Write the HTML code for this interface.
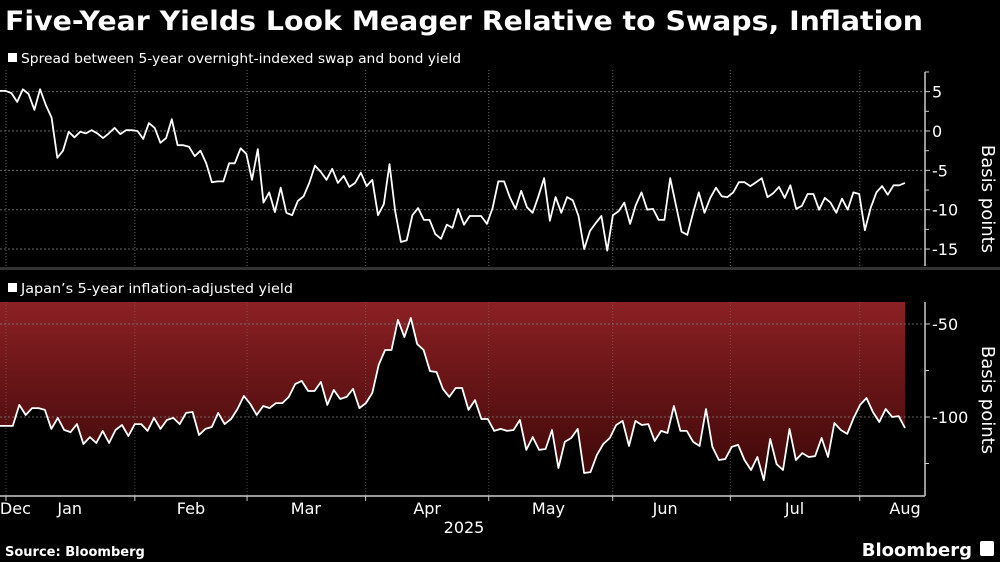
<!DOCTYPE html>
<html><head><meta charset="utf-8"><style>
html,body{margin:0;padding:0;background:#000;}
svg{display:block;font-family:"DejaVu Sans","Liberation Sans",sans-serif;}
</style></head><body>
<svg id="chart" width="1000" height="562" viewBox="0 0 1000 562">
<defs>
<linearGradient id="redgrad" x1="0" y1="302" x2="0" y2="480" gradientUnits="userSpaceOnUse">
<stop offset="0" stop-color="#8c2024"/><stop offset="1" stop-color="#3c0707"/>
</linearGradient>
</defs>
<text x="5" y="30" fill="#fff" font-weight="bold" font-size="27" textLength="918" lengthAdjust="spacingAndGlyphs">Five-Year Yields Look Meager Relative to Swaps, Inflation</text>
<rect x="8" y="53" width="9" height="9" fill="#fff"/>
<text x="21" y="63" fill="#fff" font-size="13" textLength="440" lengthAdjust="spacingAndGlyphs">Spread between 5-year overnight-indexed swap and bond yield</text>
<rect x="8" y="283" width="9" height="9" fill="#fff"/>
<text x="21" y="293" fill="#fff" font-size="13" textLength="272" lengthAdjust="spacingAndGlyphs">Japan’s 5-year inflation-adjusted yield</text>
<rect x="0" y="267" width="1000" height="3" fill="#333"/>
<g id="g"></g>
<text x="464" y="533" fill="#fff" font-size="16" text-anchor="middle">2025</text>
<text x="5" y="556" fill="#fff" font-size="13" font-weight="bold">Source: Bloomberg</text>
<text x="972" y="556" fill="#fff" font-size="18" font-weight="bold" text-anchor="end">Bloomberg</text>
<rect x="980" y="541" width="14" height="15" rx="2" fill="#fff"/>
<text x="982" y="199" fill="#fff" font-size="18" transform="rotate(90 982 199)" text-anchor="middle">Basis points</text>
<text x="982" y="400" fill="#fff" font-size="18" transform="rotate(90 982 400)" text-anchor="middle">Basis points</text>
</svg>
<script>
const spreadValues=[5.1,5.1,4.8,3.7,5.3,4.7,2.7,5.3,3.3,1.7,-3.4,-2.5,-0.1,-0.8,-0.1,-0.3,0.1,-0.3,-0.9,-0.3,0.4,-0.4,0.1,0.1,0,-1,1,0.4,-1.5,-0.9,1.5,-1.8,-1.8,-2,-3.2,-2.5,-4.1,-6.5,-6.4,-6.4,-4.1,-4.1,-2.2,-2.9,-6.2,-2.3,-9.1,-7.8,-10.3,-7.2,-10.4,-10.7,-8.9,-8.3,-6.6,-4.4,-5.2,-6.2,-4.8,-6.6,-5.7,-7.1,-6.6,-5.3,-7,-6.2,-10.7,-9.3,-4.2,-10.2,-14.1,-13.9,-10.7,-9.8,-11.3,-11.3,-13.1,-13.7,-11.9,-12.3,-9.9,-11.9,-10.8,-10.8,-10.8,-11.8,-9.8,-6.4,-6.4,-8.4,-9.9,-7.6,-9.7,-10.4,-8.3,-6,-11.4,-8.4,-10.4,-8.4,-8.8,-10.8,-15,-12.7,-11.7,-10.8,-15.2,-10.7,-10.2,-9.1,-11.8,-9.4,-7.8,-10,-9.9,-11.3,-11.3,-6,-9.4,-12.8,-13.2,-10.4,-7.8,-10.4,-8.5,-7.2,-8.3,-8.4,-7.8,-6.5,-6.5,-7,-6.5,-6,-8.4,-7.9,-7.1,-8.5,-6.9,-9.9,-9.5,-8,-8,-10,-8.5,-9.1,-10.4,-8.6,-10,-7.8,-8,-12.6,-9.8,-7.8,-7,-8.1,-6.9,-6.9,-6.6];
const realYieldValues=[-104.8,-104.8,-104.8,-93.5,-98.9,-95.2,-95.2,-96.2,-106.4,-100.5,-107,-108.1,-103.8,-114.5,-110.8,-114,-107.5,-114,-107,-104.3,-110.2,-103.8,-103.8,-107.5,-100.5,-106.4,-101.6,-100.5,-103.8,-97.8,-97.3,-109.7,-106.4,-105.4,-97.8,-103.8,-101.1,-95.7,-88.7,-93,-98.9,-94.1,-95.2,-92.5,-92.5,-89.2,-82.3,-80.6,-86,-86,-81.2,-93.5,-85.5,-90.3,-89.2,-84.9,-95.2,-92.5,-87.1,-72,-64,-64,-47.8,-57,-46.8,-60.8,-64,-75.3,-75.8,-84.9,-89.2,-84.4,-84.4,-96.2,-90.9,-101.1,-101.1,-107.5,-106.4,-107.5,-107,-101.6,-117.7,-110.8,-117.7,-117.2,-107,-127.4,-113.4,-111.3,-106.4,-130.1,-129.6,-120.4,-114.5,-111.3,-104.3,-102.1,-115.6,-102.1,-104.3,-103.8,-112.9,-107.5,-108.6,-94.1,-107.5,-107.5,-113.4,-115.6,-95.7,-116.1,-123.1,-122.6,-116.1,-115,-123.1,-128.5,-121.5,-133.9,-111.8,-125.3,-128.5,-106.4,-123.1,-119.4,-121.5,-121,-111.3,-121.5,-103.2,-107,-109.1,-100.5,-93.5,-89.8,-97.3,-102.7,-95.7,-100,-99.5,-105.9];
const topTicks=[5,0,-5,-10,-15];
const topTickLabels=["5","0","-5","-10","-15"];
const bottomTicks=[-50,-100];
const bottomTickLabels=["-50","-100"];
const bottomMinorTicks=[-75,-125];
const monthLabels=["Dec","Jan","Feb","Mar","Apr","May","Jun","Jul","Aug"];
// time axis fraction (0 = first observation, 1 = last observation)
const monthLabelT=[0.017,0.077,0.211,0.338,0.472,0.606,0.735,0.878,1.0];
const monthStartT=[0.0066,0.149,0.273,0.404,0.540,0.677,0.807,0.950];

const NS="http://www.w3.org/2000/svg";
const g=document.getElementById('g');
const X0=0,X1=905;
function xT(t){return X0+t*(X1-X0);}
function xIdx(i,n){return xT(i/(n-1));}
function yTop(v){return 131-v*7.87;}
function yBot(v){return 324+(-50-v)*1.86;}
function mk(tag,attrs){const e=document.createElementNS(NS,tag);for(const k in attrs)e.setAttribute(k,attrs[k]);g.appendChild(e);return e;}

monthStartT.forEach(t=>{
  const x=xT(t);
  const a=mk('line',{x1:x,x2:x,y1:70,y2:266,stroke:'#666','stroke-dasharray':'1,2','stroke-width':1});
  
  
});

topTicks.forEach((t,i)=>{
  const y=yTop(t);
  const l=mk('line',{x1:0,x2:922,y1:y,y2:y,stroke:'#666','stroke-dasharray':'2,2','stroke-width':1});
  
  
  const tk=mk('line',{x1:925,x2:930,y1:y,y2:y,stroke:'#ccc'});
  
  
  const tx=mk('text',{x:932,y:y+6,fill:'#fff','font-size':16});
  tx.textContent=topTickLabels[i];
  
  
  const mt=mk('line',{x1:925,x2:929,y1:yTop(t+2.5),y2:yTop(t+2.5),stroke:'#ccc'});
  
  
});
const axT=mk('line',{x1:925,x2:925,y1:72,y2:266,stroke:'#ccc','stroke-width':1.5});



let pts=spreadValues.map((v,i)=>xIdx(i,spreadValues.length).toFixed(1)+','+yTop(v).toFixed(1)).join(' ');
const topLine=mk('polyline',{points:pts,fill:'none',stroke:'#fff','stroke-width':1.8,'stroke-linejoin':'round'});



const bp=realYieldValues.map((v,i)=>[xIdx(i,realYieldValues.length),yBot(v)]);
const fillPts='0,302 '+X1+',302 '+bp.slice().reverse().map(p=>p[0].toFixed(1)+','+p[1].toFixed(1)).join(' ');
const fill=mk('polygon',{points:fillPts,fill:'url(#redgrad)'});



monthStartT.forEach(t=>{
  const x=xT(t);
  const a=mk('line',{x1:x,x2:x,y1:302,y2:496,stroke:'#777','stroke-dasharray':'1,2','stroke-width':1,'stroke-opacity':0.6});
  
  
  const tk=mk('line',{x1:x,x2:x,y1:496,y2:501,stroke:'#ccc'});
  
  
});
bottomTicks.forEach((t,i)=>{
  const y=yBot(t);
  const l=mk('line',{x1:0,x2:922,y1:y,y2:y,stroke:'#888','stroke-dasharray':'2,2','stroke-width':1,'stroke-opacity':0.7});
  
  
  const tk=mk('line',{x1:925,x2:930,y1:y,y2:y,stroke:'#ccc'});
  
  
  const tx=mk('text',{x:932,y:y+6,fill:'#fff','font-size':16});
  tx.textContent=bottomTickLabels[i];
  
  
});
bottomMinorTicks.forEach(t=>{
  const mt=mk('line',{x1:925,x2:929,y1:yBot(t),y2:yBot(t),stroke:'#ccc'});
  
  
});
const axB=mk('line',{x1:925,x2:925,y1:302,y2:496,stroke:'#ccc','stroke-width':1.5});


const axX=mk('line',{x1:0,x2:925,y1:496,y2:496,stroke:'#ccc','stroke-width':1.5});



const botLine=mk('polyline',{points:bp.map(p=>p[0].toFixed(1)+','+p[1].toFixed(1)).join(' '),fill:'none',stroke:'#fff','stroke-width':1.8,'stroke-linejoin':'round'});



monthLabels.forEach((m,i)=>{
  const tx=mk('text',{x:xT(monthLabelT[i]),y:514,fill:'#fff','font-size':16,'text-anchor':'middle'});
  tx.textContent=m;
  
  
});
</script>
</body></html>
